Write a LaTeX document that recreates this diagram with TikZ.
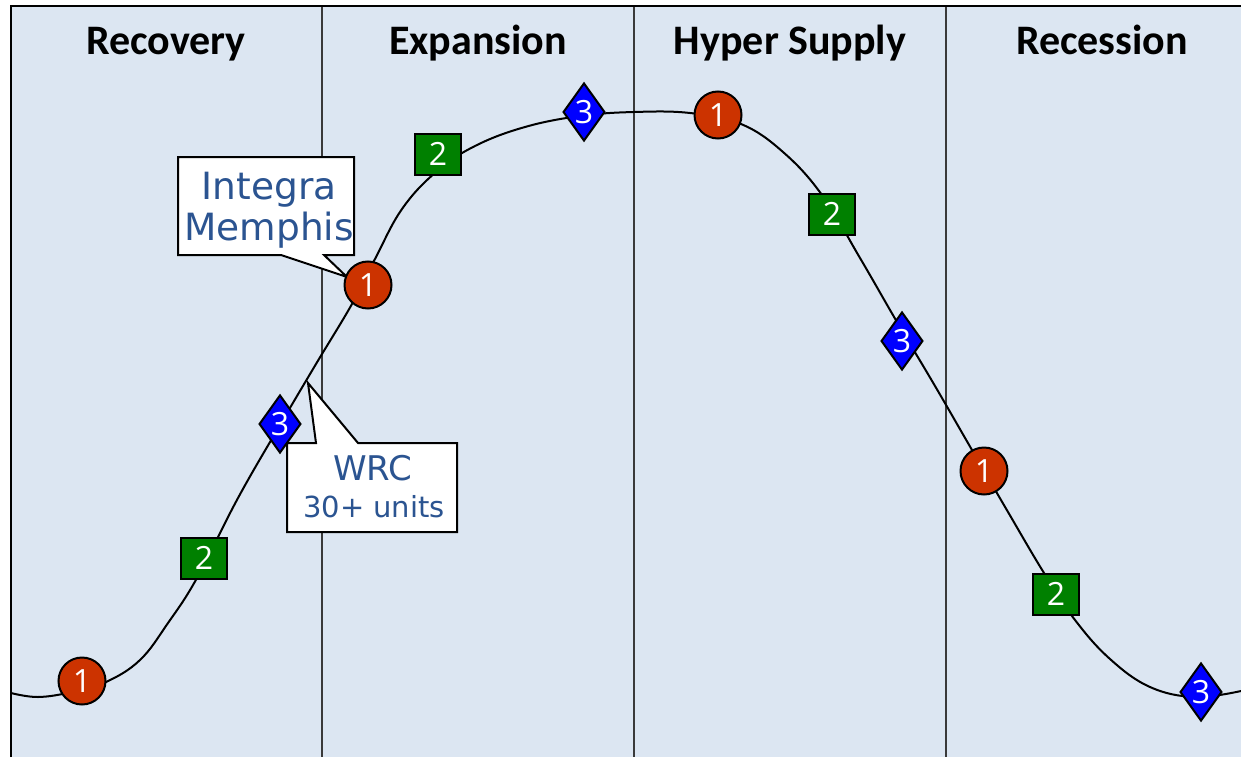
\documentclass[tikz,border=0pt]{standalone}
\usepackage{fontspec}
\usetikzlibrary{shapes.geometric}
\newfontfamily\headfont{Carlito}
\newfontfamily\numfont{Open Sans}
\newfontfamily\callfont{DejaVu Sans}
\definecolor{panel}{HTML}{DCE6F2}
\definecolor{divider}{HTML}{3A3A3A}
\definecolor{dotred}{HTML}{CC3300}
\definecolor{boxgreen}{HTML}{008000}
\definecolor{gemblue}{HTML}{0000FF}
\definecolor{calltext}{HTML}{2B5491}
\tikzset{
  header/.style={anchor=base, font=\headfont\bfseries\fontsize{42}{42}\selectfont},
  marker/.style={draw=black, line width=2pt, text=white, inner sep=0pt,
    font=\numfont\fontsize{32}{32}\selectfont},
  dot/.style={marker, circle, fill=dotred, minimum size=47},
  sq/.style={marker, rectangle, fill=boxgreen, minimum width=46, minimum height=41},
  gem/.style={marker, diamond, fill=gemblue, minimum width=40, minimum height=58},
  cycle curve/.style={draw=black, line width=2pt},
  callshape/.style={draw=black, line width=2pt, fill=white, line join=miter},
  calltxt/.style={text=calltext, align=center, inner sep=0pt}
}
\begin{document}
\begin{tikzpicture}[x=1pt, y=-1pt]
\useasboundingbox (0,0) rectangle (1241,757);
% panel background and frame
\fill[panel] (11,6) rectangle (1241,757);
\draw[black, line width=2.5pt] (11,757) -- (11,6) -- (1241,6);
\foreach \xx in {322,634,946}
  \draw[divider, line width=2pt] (\xx,7) -- (\xx,757);
% phase headings
\node[header] (hrec) at (166,55) {Recovery};
\node[header] (hexp) at (478,55) {Expansion};
\node[header] (hhyp) at (790,55) {Hyper Supply};
\node[header] (hrcs) at (1102,55) {Recession};
% market cycle curve
\draw[cycle curve] plot[smooth, tension=0.65] coordinates {
  (11,693) (38,697) (72,692) (106,682) (140,660) (168,623) (197,578)
  (238,498) (280,425) (316,364) (352,304) (375,259) (402,209) (436,172)
  (475,146) (525,127) (580,116) (634,112) (690,113) (741,124) (783,152)
  (822,195) (860,258) (897,322) (935,386) (972,450) (1008,512) (1044,573)
  (1075,620) (1110,659) (1150,687) (1195,697) (1241,691)};
% callouts
\coordinate (tipA) at (347,277);
\coordinate (tipB) at (308,383);
\path[callshape] (178,157) -- (354,157) -- (354,255) -- (324,255) -- (tipA)
  -- (281,255) -- (178,255) -- cycle;
\path[callshape] (287,443) -- (316,443) -- (tipB) -- (358,443) -- (457,443)
  -- (457,532) -- (287,532) -- cycle;
\node[calltxt, anchor=base] (ctA1) at (269,199) {\callfont\fontsize{37.5}{37.5}\selectfont Integra};
\node[calltxt, anchor=base] (ctA2) at (269,240) {\callfont\fontsize{37.5}{37.5}\selectfont Memphis};
\node[calltxt, anchor=base] (ctB1) at (373,480) {\callfont\fontsize{34}{34}\selectfont WRC};
\node[calltxt, anchor=base] (ctB2) at (374,517) {\callfont\fontsize{29}{29}\selectfont 30+ units};
% markers along the curve
\node[dot] (m1) at (82,681) {1};
\node[sq]  (m2) at (204,558) {2};
\node[gem] (m3) at (280,424) {3};
\node[dot] (m4) at (368,285) {1};
\node[sq]  (m5) at (438,154) {2};
\node[gem] (m6) at (584,112) {3};
\node[dot] (m7) at (718,115) {1};
\node[sq]  (m8) at (832,214) {2};
\node[gem] (m9) at (902,341) {3};
\node[dot] (m10) at (984,471) {1};
\node[sq]  (m11) at (1056,594) {2};
\node[gem] (m12) at (1201,692) {3};
\end{tikzpicture}
\end{document}
